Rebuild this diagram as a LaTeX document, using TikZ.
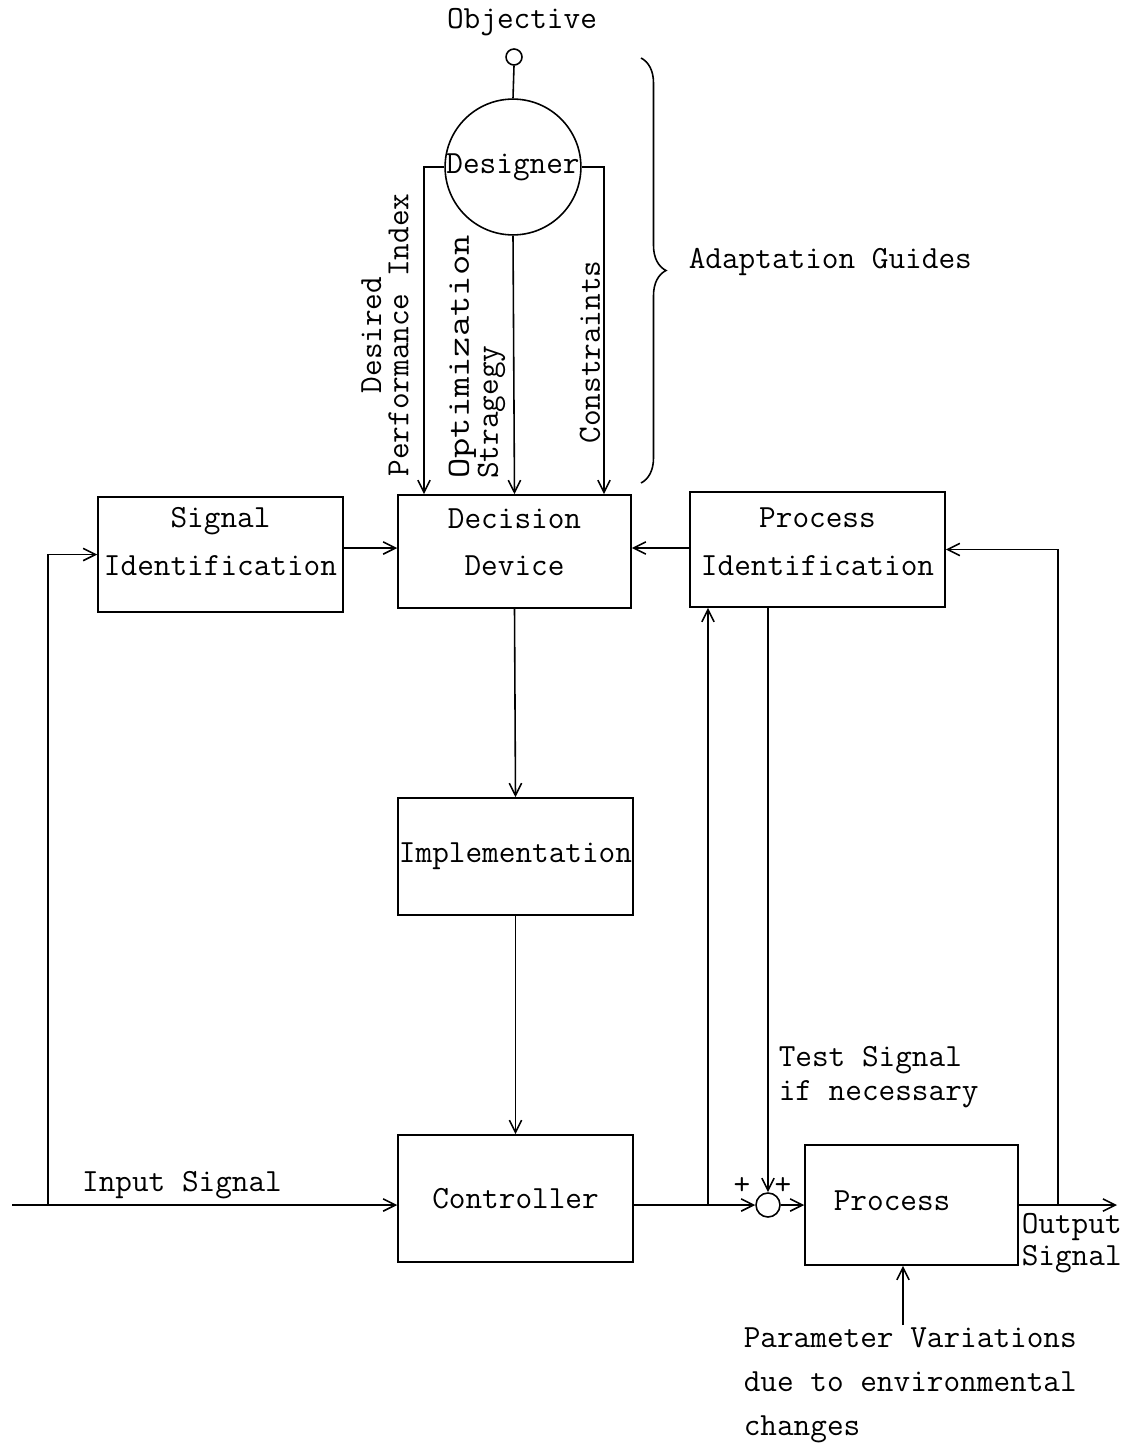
\documentclass[tikz,border=0pt]{standalone}
\usepackage{fontspec}
\usetikzlibrary{arrows.meta,calc,decorations.pathreplacing}
\begin{document}
\begin{tikzpicture}[x=0.02cm,y=-0.02cm,
  line width=0.9pt,
  >={Straight Barb[length=7pt,width=7pt]},
  txt/.style={font=\ttfamily\fontsize{18.4pt}{27pt}\selectfont, inner sep=0pt},
  blk/.style={draw, rectangle, inner sep=0pt, align=center, font=\ttfamily\fontsize{18.4pt}{27pt}\selectfont},
  rot/.style={rotate=90, font=\ttfamily\fontsize{18.4pt}{15.5pt}\selectfont, inner sep=0pt}
]
\path[use as bounding box] (0,0) rectangle (1134,1447);

% top part
\node[txt] (objt) at (522,22) {Objective};
\node[draw, circle, minimum size=0.32cm, inner sep=0pt] (obj) at (514,57) {};
\node[draw, circle, minimum size=2.68cm, inner sep=0pt, font=\ttfamily\fontsize{18.4pt}{27pt}\selectfont] (des) at (513,167) {Designer};

% blocks
\node[blk, minimum width=4.9cm, minimum height=2.3cm] (sid) at (220.5,554.5) {Signal\\Identification\rule[-15pt]{0pt}{0pt}};
\node[blk, minimum width=4.66cm, minimum height=2.26cm] (dec) at (514.5,551.5) {Decision\\Device\rule[-11pt]{0pt}{0pt}};
\node[blk, minimum width=5.1cm, minimum height=2.3cm] (pid) at (817.5,549.5) {Process\\Identification\rule[-9pt]{0pt}{0pt}};
\node[blk, minimum width=4.7cm, minimum height=2.34cm] (imp) at (515.5,856.5) {Implementation};
\node[blk, minimum width=4.7cm, minimum height=2.54cm] (ctl) at (515.5,1198.5) {Controller};
\node[blk, minimum width=4.26cm, minimum height=2.4cm] (proc) at (911.5,1205) {\hspace*{-1.2em}\raisebox{5pt}{Process}};
\node[draw, circle, minimum size=0.48cm, inner sep=0pt] (sum) at (768,1205) {};

% rotated labels
\node[rot, align=center] (dpi) at (385,335) {Desired\\Performance Index};
\node[rot, align=left] (opt) at (477,357) {\scalebox{1.22}[1]{Optimization}\\Stragegy};
\node[rot] (con) at (590,352) {Constraints};

% brace
\draw[decorate, decoration={brace, amplitude=0.5cm}] (641,58) -- (641,483);
\node[txt, anchor=west] (ag) at (688,262) {Adaptation Guides};

% other labels
\node[txt] (ins) at (182,1185) {Input Signal};
\node[txt, align=left, anchor=north west, font=\ttfamily\fontsize{18.4pt}{19pt}\selectfont] (ts) at (778,1046) {Test Signal\\if necessary};
\node[txt, align=left, anchor=north west, font=\ttfamily\fontsize{18.4pt}{18pt}\selectfont] (os) at (1021,1213) {Output\\Signal};
\node[txt, align=left, anchor=north west, font=\ttfamily\fontsize{18.4pt}{25pt}\selectfont] (pv) at (743,1327) {Parameter Variations\\due to environmental\\changes};
\node[txt] (pl) at (742,1186) {+};
\node[txt] (pr) at (783,1186) {+};

% coordinates
\coordinate (inp) at (12,1205);
\coordinate (lb) at (48,1205);
\coordinate (mb) at (708,1205);
\coordinate (ob) at (1058,1205);
\coordinate (out) at (1117,1205);
\coordinate (pvs) at (903,1325);

% connectors top
\draw (obj.south) -- (des.north);
\draw[->] (des.west) -| ($(dec.north)+(-90.5,0)$);
\draw[->] (des.south) -- (dec.north);
\draw[->] (des.east) -| ($(dec.north)+(89.5,0)$);

% connectors blocks
\draw[->] (sid.east |- 0,548) -- (dec.west |- 0,548);
\draw[->] (pid.west |- 0,548) -- (dec.east |- 0,548);
\draw[->] (dec.south) -- (imp.north);
\draw[->] (imp.south) -- (ctl.north);

% main line
\draw[->] (inp) -- (inp -| ctl.west);
\draw[->] (lb) |- (sid.west);
\draw[->] (sum -| ctl.east) -- (sum.west);
\draw[->] (mb) -- (mb |- pid.south);
\draw[->] (pid.south -| sum) -- (sum.north);
\draw[->] (sum.east) -- (proc.west);
\draw[->] (proc.east) -- (out);
\draw[->] (ob) |- (pid.east);
\draw[->] (pvs) -- (pvs |- proc.south);
\end{tikzpicture}
\end{document}
